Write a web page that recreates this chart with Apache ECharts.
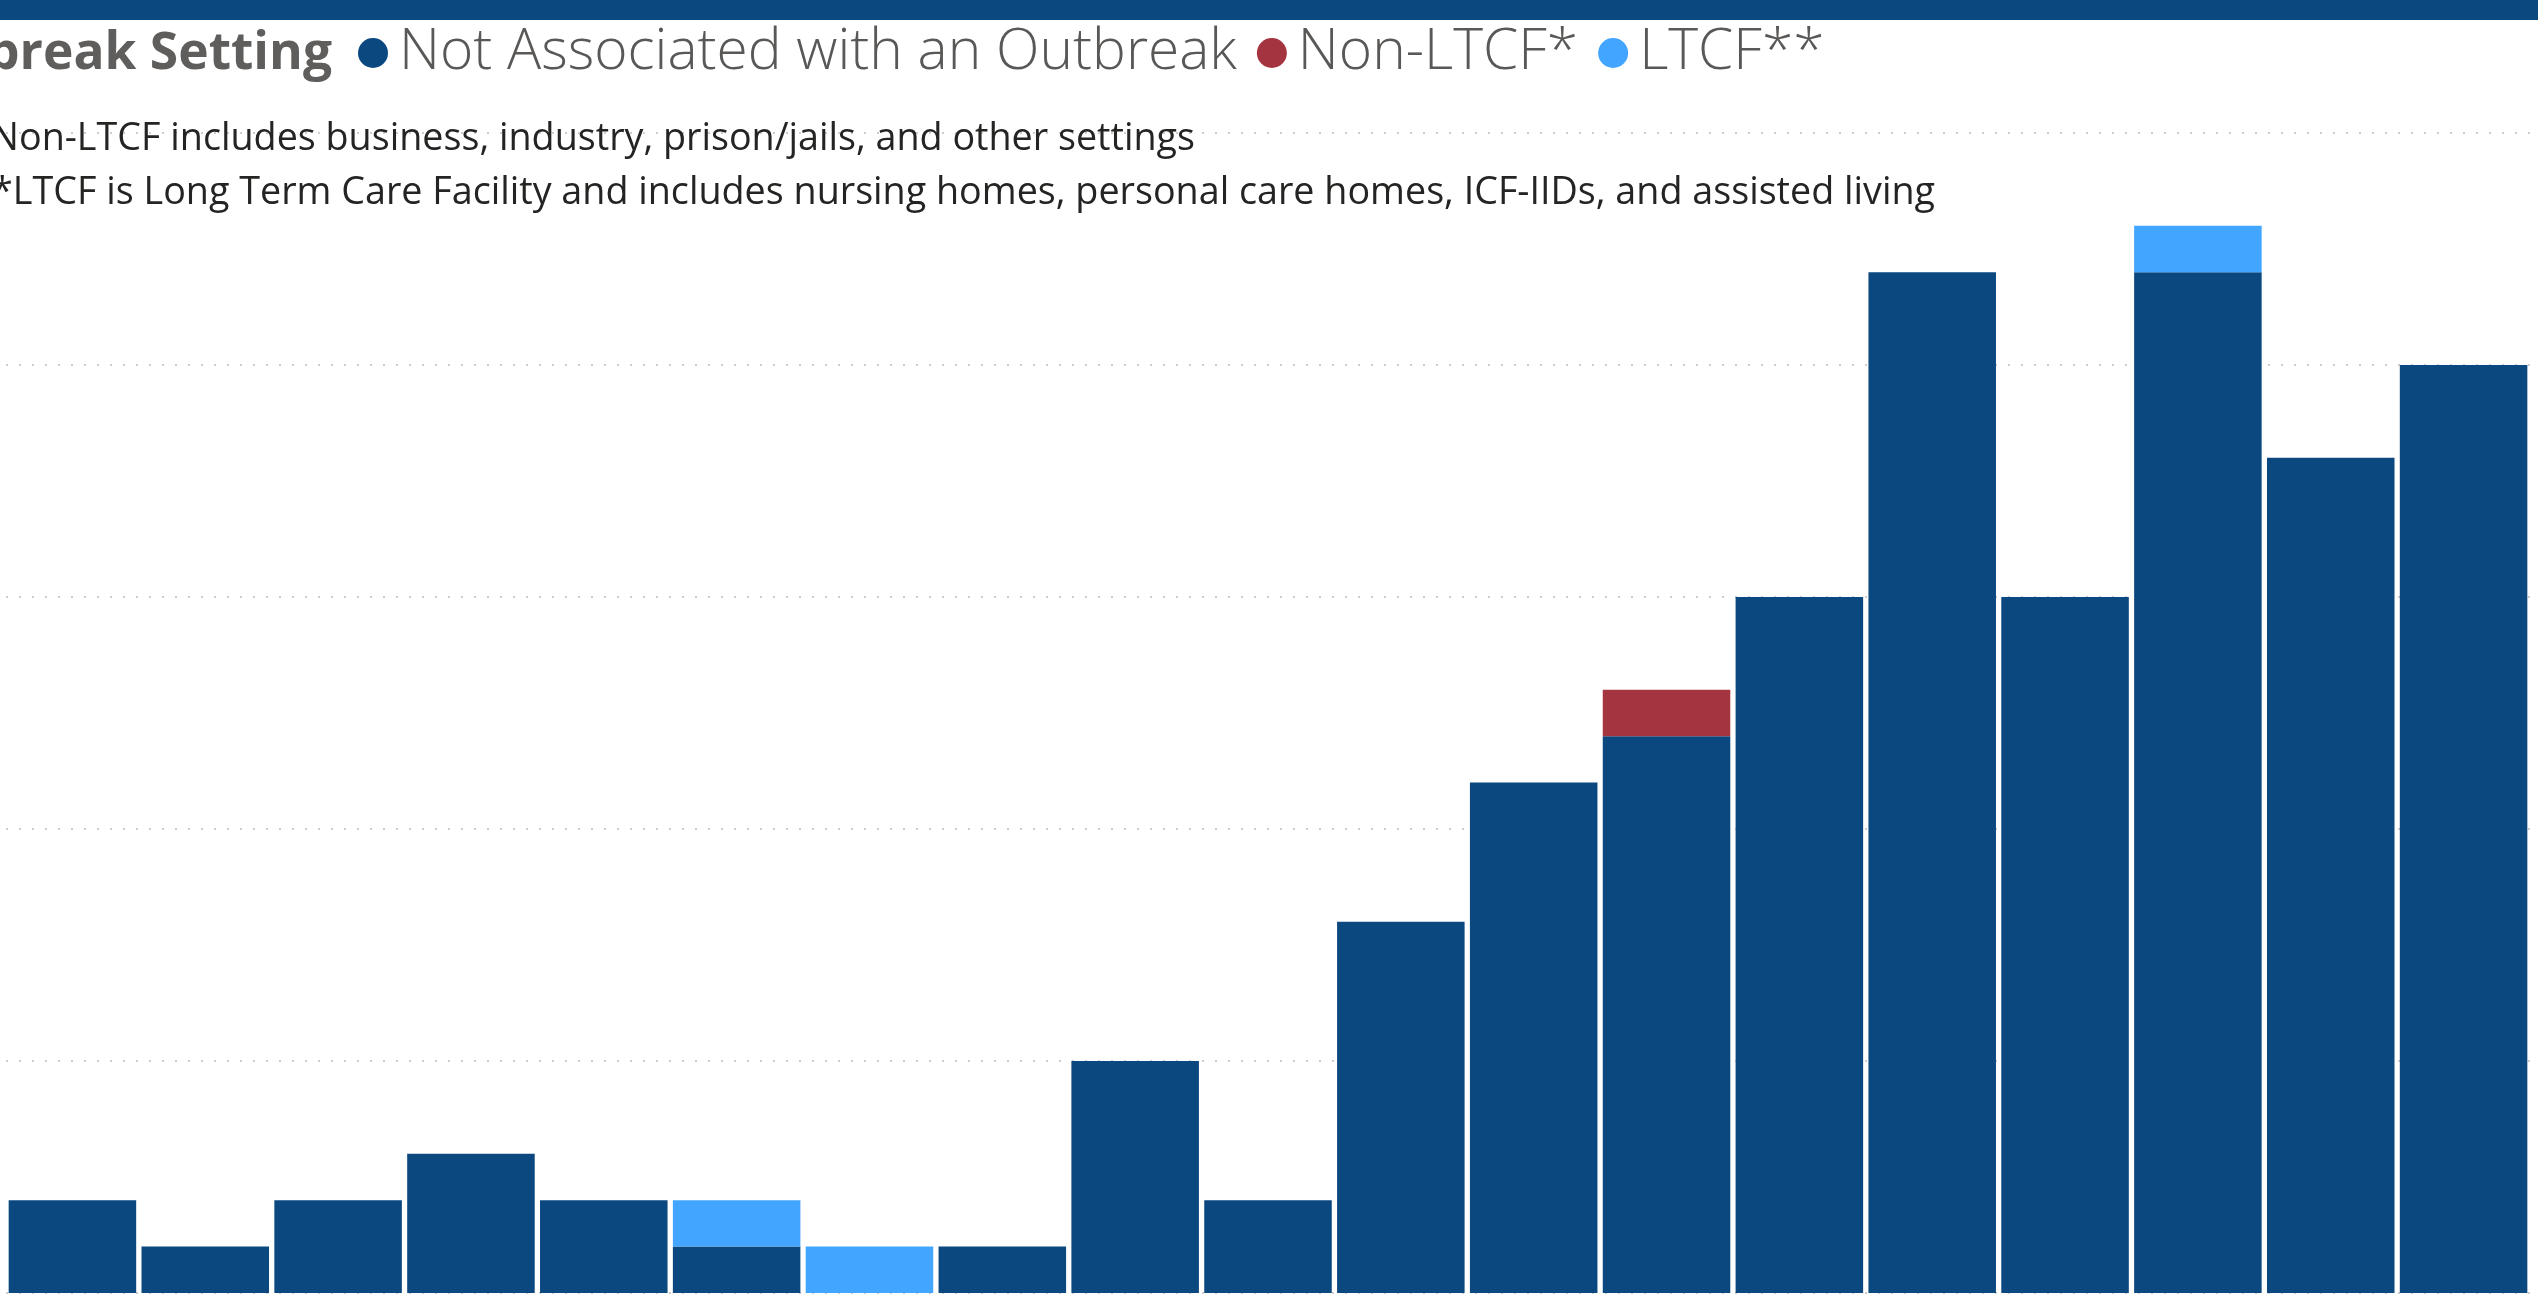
<!DOCTYPE html>
<html>
<head>
<meta charset="utf-8">
<script src="https://cdn.jsdelivr.net/npm/echarts@6/dist/echarts.min.js"></script>
<style>
html,body{margin:0;padding:0;background:#fff;}
#chart{width:2538px;height:1308px;}
</style>
</head>
<body>
<div id="chart"></div>
<script>
// ---- data ----
const weeks = ['1','2','3','4','5','6','7','8','9','10','11','12','13','14','15','16','17','18','19'];
const notAssociated = [2,1,2,3,2,1,0,1,5,2,8,11,12,15,22,15,22,18,20];
const nonLTCF       = [0,0,0,0,0,0,0,0,0,0,0,0,1,0,0,0,0,0,0];
const ltcf          = [0,0,0,0,0,1,1,0,0,0,0,0,0,0,0,0,1,0,0];
const seriesNames = ['Not Associated with an Outbreak','Non-LTCF*','LTCF**'];
const legendTitle = 'Outbreak Setting';
const note1 = '*Non-LTCF includes business, industry, prison/jails, and other settings';
const note2 = '**LTCF is Long Term Care Facility and includes nursing homes, personal care homes, ICF-IIDs, and assisted living';
const yTicks = {min:0, max:25, interval:5};

const FAMILY = "'Open Sans', 'Noto Sans', sans-serif";
const ctx = document.createElement('canvas').getContext('2d');
function fitSize(text, target, weight){
  ctx.font = weight + ' 100px ' + FAMILY;
  return 100 * target / ctx.measureText(text).width;
}
const legendSize = fitSize(seriesNames[0], 838, 300);
const titleSize = fitSize(legendTitle.slice(3), 345, 700);
const noteSize = fitSize(note2.slice(2), 1922, 400);

const colors = ['#0B4880', '#A4343F', '#42A5FF'];
const chart = echarts.init(document.getElementById('chart'));
const mk = (name, data, color) => ({
  name, type:'bar', stack:'total', data,
  barCategoryGap:'4%',
  itemStyle:{color},
  emphasis:{disabled:true}
});
chart.setOption({
  animation:false,
  backgroundColor:'#ffffff',
  grid:{left:6, right:8, top:133, bottom:15, containLabel:false},
  legend:{
    data:seriesNames,
    left:358, top:23, padding:0,
    icon:'circle', itemWidth:42, itemHeight:30, itemGap:20,
    textStyle:{fontFamily:FAMILY, fontSize:legendSize, fontWeight:300, color:'#5A5856', lineHeight:60},
    selectedMode:false
  },
  xAxis:{
    type:'category', data:weeks,
    axisLine:{show:false}, axisTick:{show:false}, axisLabel:{show:false}
  },
  yAxis:{
    type:'value', min:yTicks.min, max:yTicks.max, interval:yTicks.interval,
    axisLabel:{show:false}, axisLine:{show:false}, axisTick:{show:false},
    splitLine:{show:true, lineStyle:{color:'#CDCDCD', width:2, type:[2,11]}}
  },
  series:[
    mk(seriesNames[0], notAssociated, colors[0]),
    mk(seriesNames[1], nonLTCF, colors[1]),
    mk(seriesNames[2], ltcf, colors[2])
  ],
  graphic:[
    {type:'rect', left:0, top:0, z:100, shape:{width:2538, height:20}, style:{fill:'#0B4880'}},
    {type:'text', x:332, y:54, z:100, style:{text:legendTitle, align:'right', verticalAlign:'middle',
      font:'bold ' + titleSize.toFixed(1) + 'px ' + FAMILY, fill:'#605E5C'}},
    {type:'text', x:1195, y:139, z:100, style:{text:note1, align:'right', verticalAlign:'middle',
      font:'400 ' + noteSize.toFixed(1) + 'px ' + FAMILY, fill:'#252423'}},
    {type:'text', x:1935, y:193, z:100, style:{text:note2, align:'right', verticalAlign:'middle',
      font:'400 ' + noteSize.toFixed(1) + 'px ' + FAMILY, fill:'#252423'}}
  ]
});
</script>
</body>
</html>
